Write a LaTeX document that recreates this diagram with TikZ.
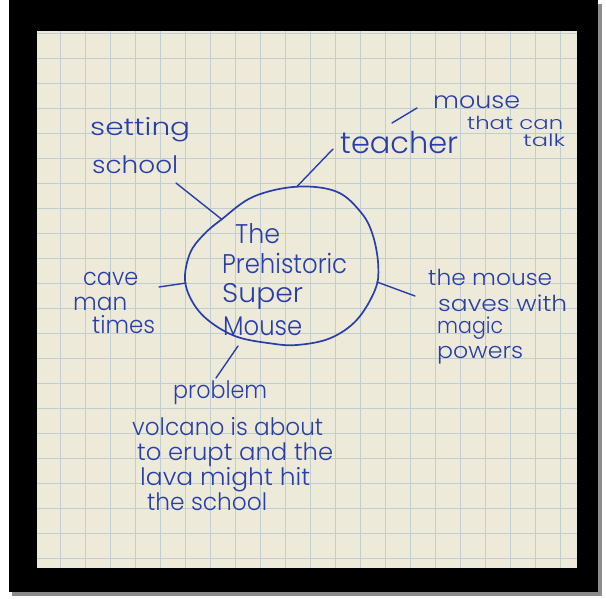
\documentclass[tikz,border=0pt]{standalone}
\usepackage{fontspec}
\usepackage{graphicx}
\newfontfamily\hand{Poppins Light}
\definecolor{inkblue}{RGB}{40,62,168}
\definecolor{paper}{RGB}{238,234,218}
\definecolor{gridc}{RGB}{192,206,208}
\newcommand\hwtext[2]{\resizebox{#1pt}{\height}{#2}}
\begin{document}
\begin{tikzpicture}[x=1pt,y=-1pt,
  ink/.style={draw=inkblue, line width=1.7pt, line cap=round, line join=round},
  link/.style={draw=inkblue, line width=1.4pt, line cap=round},
  lbl/.style={anchor=base west, inner sep=0pt, text=inkblue, font=\hand\fontsize{#1}{#1}\selectfont},
  lbl/.default=24,
  gridline/.style={draw=gridc, line width=0.8pt}]
\useasboundingbox (0,0) rectangle (606,598);
\fill[white] (0,0) rectangle (606,598);
% frame
\fill[black!45] (12,4) rectangle (602,596);
\fill[black] (9,0) rectangle (598,592);
\fill[paper] (37,31) rectangle (577,568);
% grid
\foreach \gx in {60,85,...,560} \draw[gridline] (\gx,31) -- (\gx,568);
\foreach \gy in {33,58,...,558} \draw[gridline] (37,\gy) -- (577,\gy);
% central egg
\draw[ink] plot[smooth cycle, tension=0.6] coordinates {
 (221.7,219.3) (253.3,196.7) (296.7,186.7) (336.7,191.7) (361.7,213.3)
 (373.3,236.7) (378.3,266.7) (375,290) (356.7,320) (330,338.3) (296.7,345)
 (270,343.3) (236.7,336.7) (210,321.7) (193.3,303.3) (185,280) (190,253.3)
 (203.3,235)};
% rim points and free ends
\coordinate (rimS) at (221.7,219.3);
\coordinate (rimT) at (297,186.5);
\coordinate (rimC) at (186,283);
\coordinate (rimR) at (377,282);
\coordinate (rimP) at (238,346);
\coordinate (endS) at (176,183);
\coordinate (endT) at (333,149);
\coordinate (endC) at (159,287);
\coordinate (endR) at (415,296);
\coordinate (endP) at (216,378);
\coordinate (mA) at (392,123);
\coordinate (mB) at (417,108);
\draw[link] (endS) -- (rimS);
\draw[link] (endT) -- (rimT);
\draw[link] (endC) -- (rimC);
\draw[link] (rimR) -- (endR);
\draw[link] (rimP) -- (endP);
\draw[link] (mA) -- (mB);
% labels
\node[lbl=24] (setting) at (90,135) {\hwtext{100}{setting}};
\node[lbl=24] (school) at (92,173) {\hwtext{86}{school}};
\node[lbl=30] (teacher) at (340,153) {\hwtext{118}{teacher}};
\node[lbl=23] (mouse) at (433,108) {\hwtext{87}{mouse}};
\node[lbl=18] (thatcan) at (467,129) {\hwtext{96}{that can}};
\node[lbl=17] (talk) at (523,146) {\hwtext{42}{talk}};
\node[lbl=27] (the) at (235,243) {\hwtext{45}{The}};
\node[lbl=27] (prehist) at (222,273) {\hwtext{125}{Prehistoric}};
\node[lbl=27] (super) at (222,302) {\hwtext{81}{Super}};
\node[lbl=27] (mouseC) at (223,335) {\hwtext{79}{Mouse}};
\node[lbl=24] (cave) at (83,285) {\hwtext{55}{cave}};
\node[lbl=24] (man) at (73,310) {\hwtext{54}{man}};
\node[lbl=24] (times) at (92,333) {\hwtext{63}{times}};
\node[lbl=22] (themouse) at (428,285) {\hwtext{124}{the mouse}};
\node[lbl=22] (saves) at (438,311) {\hwtext{129}{saves with}};
\node[lbl=22] (magic) at (437,333) {\hwtext{66}{magic}};
\node[lbl=22] (powers) at (437,358) {\hwtext{86}{powers}};
\node[lbl=24] (problem) at (173,398) {\hwtext{94}{problem}};
\node[lbl=24] (volcano) at (132,435) {\hwtext{191}{volcano is about}};
\node[lbl=24] (erupt) at (137,460) {\hwtext{196}{to erupt and the}};
\node[lbl=24] (lava) at (140,485) {\hwtext{170}{lava might hit}};
\node[lbl=24] (theschool) at (147,510) {\hwtext{120}{the school}};
\end{tikzpicture}
\end{document}
